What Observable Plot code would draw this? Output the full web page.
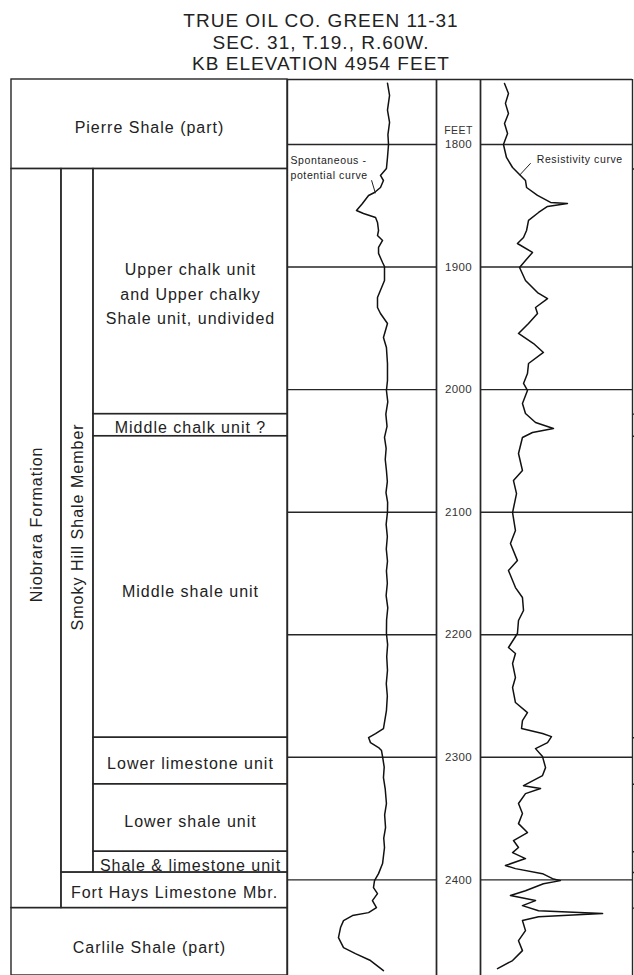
<!DOCTYPE html>
<html>
<head>
<meta charset="utf-8">
<script src="https://cdn.jsdelivr.net/npm/d3@7"></script>
<script src="https://cdn.jsdelivr.net/npm/@observablehq/plot@0.6"></script>
<style>
  html, body { margin: 0; padding: 0; background: #fff; }
  #wrap { position: relative; width: 634px; height: 975px; overflow: hidden; background: #fff;
          font-family: "Liberation Sans", Arial, sans-serif; color: #222; }
  #title { position: absolute; left: 4px; top: 0; width: 634px; text-align: center;
           font-size: 19px; line-height: 21.5px; padding-top: 10px; letter-spacing: 1px; }
</style>
</head>
<body>
<div id="wrap"><div id="title"></div></div>
<script>
// ---------------- data ----------------
const titleLines = ["TRUE OIL CO. GREEN 11-31", "SEC. 31, T.19., R.60W.", "KB ELEVATION 4954 FEET"];

const depthUnitLabel = "FEET";
const depthTicks = [1800, 1900, 2000, 2100, 2200, 2300, 2400];
const depthTop = 1747;
const depthBottom = 2478;

const unitNames = [
  "Pierre Shale (part)",
  "Niobrara Formation",
  "Smoky Hill Shale Member",
  "Upper chalk unit\nand Upper chalky\nShale unit, undivided",
  "Middle chalk unit ?",
  "Middle shale unit",
  "Lower limestone unit",
  "Lower shale unit",
  "Shale & limestone unit",
  "Fort Hays Limestone Mbr.",
  "Carlile Shale (part)"
];
const unitTops  = [1747, 1820, 1820, 1820, 2020, 2038, 2284, 2322, 2377, 2394, 2423];
const unitBases = [1820, 2423, 2394, 2020, 2038, 2284, 2322, 2377, 2394, 2423, 2478];
const unitRanks = ["formation", "niobrara", "smoky", "unit", "unit", "unit", "unit", "unit", "unit", "member", "formation"];
const unitVertical = [false, true, true, false, false, false, false, false, false, false, false];
// depth at which each name is centred (ft)
const unitLabelDepths = [1784, 2110, 2112, 1920, 2029, 2163, 2303, 2350, 2386, 2408.5, 2453];

// Spontaneous-potential curve: depth (ft) and deflection (% of track width)
const spDepth = [1750, 1760, 1772, 1782, 1792, 1800, 1810.6, 1819.6, 1825.3, 1829.4, 1835.1, 1839.2, 1841.6, 1848.1, 1853.9,
  1856.3, 1859.6, 1863.6, 1870.2, 1874.3, 1878.3, 1884.0, 1888.9, 1896.3, 1899.6, 1911.0, 1924.8, 1933.0, 1937.9,
  1946.1, 1957.5, 1965.6, 1978.7, 1992.6, 2000.7, 2010, 2020, 2030, 2039, 2048, 2057, 2066, 2075, 2084, 2092,
  2100, 2110, 2120, 2130, 2140, 2148, 2158, 2168, 2178, 2188, 2199, 2208, 2218, 2229, 2240, 2250, 2262,
  2276.5, 2280.6, 2283.9, 2288.0, 2292.0, 2294.5, 2299.4, 2308, 2316.5, 2326, 2337.7, 2347, 2357.3, 2366, 2373.6,
  2386.7, 2394.9, 2400.6, 2406.3, 2411.2, 2416.9, 2422.6, 2426.7, 2429.1, 2433.2, 2438.9, 2447.1, 2455.2,
  2460.1, 2465.8, 2474.0];
const spValue = [67.1, 68.5, 67.1, 68.5, 67.4, 67.8, 67.1, 66.4, 62.4, 64.4, 62.4, 58.4, 54.4, 50.3, 46.3,
  51.0, 59.1, 60.4, 61.1, 60.4, 63.8, 61.1, 61.1, 63.8, 65.1, 65.1, 60.4, 60.4, 62.4,
  67.1, 64.4, 66.4, 67.1, 67.1, 66.4, 67.3, 66.0, 66.8, 65.1, 66.2, 65.6, 66.4, 67.0, 66.1, 67.2,
  67.1, 66.2, 67.0, 66.3, 67.1, 66.4, 67.0, 66.2, 67.3, 66.5, 66.4, 67.2, 66.6, 67.1, 66.3, 67.0, 66.4,
  64.4, 59.1, 54.4, 55.7, 61.1, 63.1, 63.8, 64.9, 64.4, 65.6, 66.4, 65.2, 65.8, 64.6, 65.1,
  63.8, 61.1, 58.4, 57.7, 60.4, 57.0, 59.7, 54.4, 43.6, 37.6, 35.6, 34.2, 37.6,
  45.6, 55.7, 64.4];

// Resistivity curve: depth (ft) and deflection (% of track width)
const resDepth = [1750.2, 1758.4, 1766.5, 1774.7, 1782.9, 1791.0, 1800, 1810.6, 1818.8, 1823.7, 1829.4, 1835.1,
  1841.6, 1847.3, 1848.1, 1850.6, 1855.5, 1862.0, 1870.2, 1875.9, 1880.8, 1888.1, 1894.7, 1900.4, 1911.0,
  1920.8, 1925.7, 1933.0, 1937.9, 1946.1, 1954.2, 1962.4, 1969.7, 1978.7, 1986.9, 1995.0, 2000.7, 2011.3,
  2019.5, 2026.8, 2031.7, 2035.0, 2039.1, 2052.1, 2066.0, 2074.2, 2084.8, 2100.3, 2115.0, 2125.6, 2139.5,
  2147.6, 2161.5, 2169.6, 2180.2, 2188.4, 2199.0, 2210.4, 2215.3, 2223.5, 2234.9, 2243.1, 2255.3, 2263.5,
  2270.0, 2276.5, 2280.6, 2283.1, 2288.0, 2292.9, 2299.4, 2308.4, 2314.9, 2323.1, 2325.5, 2329.6, 2337.7,
  2345.9, 2354.1, 2361.4, 2367.9, 2373.6, 2377.7, 2382.6, 2388.3, 2390.8, 2394.9, 2399.0, 2400.6, 2403.1,
  2408.8, 2412.8, 2416.9, 2421.0, 2425.1, 2427.5, 2430.0, 2433.2, 2441.4, 2449.6, 2457.7, 2465.8, 2472.4];
const resValue = [15.8, 18.4, 16.4, 18.4, 15.8, 17.8, 15.1, 17.1, 21.1, 25.0, 29.6, 30.3,
  37.5, 46.1, 57.2, 44.1, 38.2, 31.6, 30.3, 28.3, 24.3, 34.2, 29.6, 25.7, 29.6,
  37.5, 44.1, 36.2, 37.5, 31.6, 25.0, 34.9, 41.4, 31.6, 30.9, 28.3, 30.9, 27.6,
  29.6, 36.2, 48.0, 34.2, 27.6, 25.0, 27.6, 21.7, 23.7, 21.1, 23.0, 19.7, 24.3,
  18.4, 23.0, 27.6, 28.3, 25.0, 24.3, 18.4, 23.0, 21.1, 23.0, 21.1, 23.0, 30.9,
  27.6, 27.0, 40.8, 46.7, 44.1, 36.2, 40.8, 42.8, 40.8, 28.3, 39.5, 29.6, 25.0,
  27.6, 25.0, 30.9, 21.7, 25.0, 21.1, 29.6, 16.4, 23.0, 40.8, 47.4, 52.6, 41.4,
  29.6, 19.7, 36.2, 27.6, 38.2, 80.3, 38.2, 27.6, 29.6, 25.0, 27.6, 21.1, 11.2];

const curveLabels = ["Spontaneous -\npotential curve", "Resistivity curve"];
const curveLabelDepths = [1818, 1811];
const curveLabelValues = [2, 37];
const leaderFrom = [[56.4, 1829.2], [33.0, 1815.3]];
const leaderTo   = [[59.0, 1839.8], [25.7, 1825.1]];

// ---------------- layout (page pixels) ----------------
const layout = {
  top: 77, marginTop: 2,
  strat: [11, 287], sp: [287, 436], depth: [436, 480], res: [480, 632],
  cols: { formation: [0, 1], niobrara: [0, 0.181], smoky: [0.181, 0.297], member: [0.181, 1], unit: [0.297, 1] }
};
const H = 975 - layout.top;
const INK = "#262626";
const LINE_W = 1.4;
const FONT = "'Liberation Sans', Arial, sans-serif";

document.getElementById("title").innerHTML = titleLines.join("<br>");
const wrap = document.getElementById("wrap");

function track(name, xDomain, marks, extraRight = 0, letterSpacing = "0px") {
  const [a, b] = layout[name];
  const svg = Plot.plot({
    width: b - a + 4 + extraRight,
    height: H,
    marginTop: layout.marginTop, marginBottom: 0, marginLeft: 2, marginRight: 2 + extraRight,
    x: { domain: xDomain, axis: null },
    y: { domain: [depthTop, depthBottom], reverse: true, axis: null },
    style: { fontFamily: FONT, background: "transparent", overflow: "visible", color: "#222", letterSpacing },
    marks
  });
  svg.style.position = "absolute";
  svg.style.left = (a - 2) + "px";
  svg.style.top = layout.top + "px";
  wrap.appendChild(svg);
}

// ---------------- stratigraphic column ----------------
const units = unitNames.map((name, i) => ({
  name, top: unitTops[i], base: unitBases[i], rank: unitRanks[i],
  vertical: unitVertical[i], labelDepth: unitLabelDepths[i]
}));
const cx = d => (layout.cols[d.rank][0] + layout.cols[d.rank][1]) / 2;

track("strat", [0, 1], [
  Plot.rect(units, {
    x1: d => layout.cols[d.rank][0], x2: d => layout.cols[d.rank][1],
    y1: "top", y2: "base", fill: "none", stroke: INK, strokeWidth: LINE_W
  }),
  Plot.text(units.filter(d => !d.vertical), {
    x: cx, y: "labelDepth", text: "name", fontSize: 16, lineHeight: 1.56, fill: "#222"
  }),
  Plot.text(units.filter(d => d.vertical), {
    x: cx, y: "labelDepth", text: "name", fontSize: 16, rotate: -90, fill: "#222"
  })
], 0, "1px");

// ---------------- curve tracks ----------------
const sp = spDepth.map((d, i) => ({ depth: d, value: spValue[i] }));
const res = resDepth.map((d, i) => ({ depth: d, value: resValue[i] }));
const boundaries = Array.from(new Set(unitTops.filter(d => d > depthTop)));

function curveTrack(name, data, idx, extraRight, ticks) {
  const marks = [
    Plot.ruleY(depthTicks, { stroke: INK, strokeWidth: LINE_W }),
    Plot.ruleY([depthTop], { stroke: INK, strokeWidth: LINE_W }),
    Plot.ruleX([0, 100], { y1: depthTop, y2: depthBottom, stroke: INK, strokeWidth: LINE_W }),
    Plot.line(data, { x: "value", y: "depth", stroke: "#111", strokeWidth: 1.5, curve: "linear" }),
    Plot.text([curveLabels[idx]], {
      x: curveLabelValues[idx], y: curveLabelDepths[idx], text: d => d,
      textAnchor: "start", fontSize: 10.5, lineHeight: 1.45, fill: "#222"
    }),
    Plot.link([0], {
      x1: leaderFrom[idx][0], y1: leaderFrom[idx][1], x2: leaderTo[idx][0], y2: leaderTo[idx][1],
      stroke: "#222", strokeWidth: 1
    })
  ];
  if (ticks) marks.push(Plot.ruleY(boundaries, { x1: 100, x2: 102, stroke: INK, strokeWidth: LINE_W }));
  track(name, [0, 100], marks, extraRight, "0.6px");
}
curveTrack("sp", sp, 0, 0, false);

// ---------------- depth track ----------------
track("depth", [0, 1], [
  Plot.ruleX([0, 1], { y1: depthTop, y2: depthBottom, stroke: INK, strokeWidth: LINE_W }),
  Plot.ruleY([depthTop], { stroke: INK, strokeWidth: LINE_W }),
  Plot.text(depthTicks, { x: 0.5, y: d => d, text: d => String(d), fontSize: 11.5, fill: "#333" }),
  Plot.text([depthUnitLabel], { x: 0.5, y: depthTicks[0], dy: -14, text: d => d, fontSize: 10.5, fill: "#333" })
], 0, "0.4px");

// ---------------- resistivity track ----------------
curveTrack("res", res, 1, 0, true);
</script>
</body>
</html>
